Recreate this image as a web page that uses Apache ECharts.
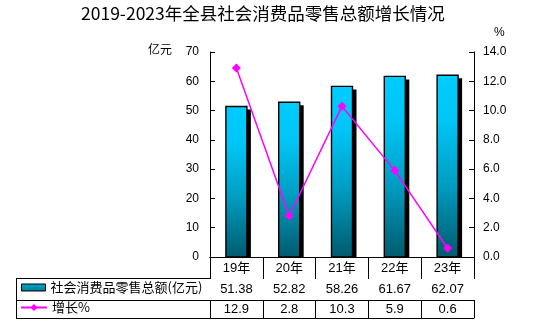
<!DOCTYPE html>
<html>
<head>
<meta charset="utf-8">
<script src="https://cdn.jsdelivr.net/npm/echarts@6/dist/echarts.min.js"></script>
<style>
  html, body { margin: 0; padding: 0; background: #fff; }
  #chart { width: 550px; height: 324px; }
</style>
</head>
<body>
<div id="chart"></div>
<script>
// Retail sales of consumer goods, 2019-2023
const titleText = '2019-2023年全县社会消费品零售总额增长情况';
const categories = ['19年', '20年', '21年', '22年', '23年'];
const salesName = '社会消费品零售总额(亿元)';
const salesValues = [51.38, 52.82, 58.26, 61.67, 62.07];
const growthName = '增长%';
const growthValues = [12.9, 2.8, 10.3, 5.9, 0.6];
const leftAxis = { name: '亿元', min: 0, max: 70, interval: 10 };
const rightAxis = { name: '%', min: 0, max: 14, interval: 2 };

const NUM_FONT = '"Liberation Sans", Arial, "Noto Sans CJK SC", sans-serif';
const CJK_FONT = '"Noto Sans CJK SC", "Liberation Sans", sans-serif';

// layout of the plot and of the data table underneath
const G = { left: 210, right: 76, top: 52, bottom: 67 };
const W = 550, H = 324;
const axisY = H - G.bottom;          // 257
const rowOffsets = [0, 21, 43, 61];  // table row borders below the axis
const tableLeft = 16;
const plotLeft = G.left;

const BAR_W = 21;
const SHADOW_DX = 4, SHADOW_DY = 3;

const chart = echarts.init(document.getElementById('chart'), null, { renderer: 'canvas' });

function barFill() {
  return new echarts.graphic.LinearGradient(0, 0, 0, 1, [
    { offset: 0, color: '#00ccff' },
    { offset: 0.25, color: '#00c6f6' },
    { offset: 0.6, color: '#009dc2' },
    { offset: 1, color: '#005a6c' }
  ]);
}

// bar with a hard black drop shadow, placed through the axes
function renderBar(params, api) {
  const top = api.coord([api.value(0), api.value(1)]);
  const base = api.coord([api.value(0), 0]);
  const x = top[0] - BAR_W / 2;
  const h = base[1] - top[1];
  return {
    type: 'group',
    children: [
      {
        type: 'rect',
        shape: { x: x + SHADOW_DX, y: top[1] + SHADOW_DY, width: BAR_W, height: Math.max(0, h - SHADOW_DY) },
        style: { fill: '#000' }
      },
      {
        type: 'rect',
        shape: { x: x, y: top[1], width: BAR_W, height: h },
        style: { fill: barFill(), stroke: '#000', lineWidth: 1.4 }
      }
    ]
  };
}

function tableAxis(offset, tickLen, margin, fmt) {
  return {
    type: 'category',
    data: categories,
    position: 'bottom',
    offset: offset,
    axisLine: { show: true, lineStyle: { color: '#000', width: 1 } },
    axisTick: { show: tickLen > 0, length: tickLen, lineStyle: { color: '#000', width: 1 } },
    axisLabel: {
      show: !!fmt,
      margin: margin,
      verticalAlign: 'middle',
      color: '#000',
      fontSize: 13,
      fontFamily: NUM_FONT,
      formatter: fmt || undefined
    },
    splitLine: { show: false }
  };
}

const option = {
  backgroundColor: '#fff',
  animation: false,
  title: {
    text: titleText,
    left: 81,
    top: 5,
    padding: 0,
    textStyle: { fontSize: 17.5, fontWeight: 'normal', color: '#000', fontFamily: CJK_FONT }
  },
  legend: [
    {
      data: [{ name: salesName, icon: 'rect' }],
      left: 21, top: 281, padding: 0,
      itemWidth: 24, itemHeight: 7, itemTextGap: 7,
      selectedMode: false,
      itemStyle: {
        color: new echarts.graphic.LinearGradient(0, 0, 0, 1, [
          { offset: 0, color: '#00a8cc' }, { offset: 1, color: '#007a95' }
        ]),
        borderColor: '#000', borderWidth: 1
      },
      textStyle: { fontSize: 13, color: '#000', fontFamily: CJK_FONT }
    },
    {
      data: [growthName],
      left: 20, top: 301, padding: 0,
      itemWidth: 26, itemHeight: 9, itemTextGap: 7,
      selectedMode: false,
      textStyle: { fontSize: 13, color: '#000', fontFamily: CJK_FONT }
    }
  ],
  grid: { left: G.left, right: G.right, top: G.top, bottom: G.bottom, containLabel: false },
  xAxis: [
    tableAxis(rowOffsets[0], rowOffsets[1] - rowOffsets[0], 11, (v) => v),
    tableAxis(rowOffsets[1], rowOffsets[2] - rowOffsets[1], 11, (v, i) => salesValues[i].toFixed(2)),
    tableAxis(rowOffsets[2], rowOffsets[3] - rowOffsets[2], 9, (v, i) => growthValues[i].toFixed(1)),
    tableAxis(rowOffsets[3], 0, 0, null)
  ],
  yAxis: [
    {
      type: 'value',
      name: leftAxis.name,
      nameLocation: 'end',
      nameGap: -3,
      nameTextStyle: { color: '#000', fontSize: 12, fontFamily: CJK_FONT, align: 'right', padding: [0, 38, 0, 0] },
      min: leftAxis.min, max: leftAxis.max, interval: leftAxis.interval,
      axisLine: { show: true, lineStyle: { color: '#000', width: 1 } },
      axisTick: { show: true, inside: true, length: 5, lineStyle: { color: '#000' } },
      axisLabel: { color: '#000', fontSize: 12, fontFamily: NUM_FONT, margin: 11 },
      splitLine: { show: false }
    },
    {
      type: 'value',
      name: rightAxis.name,
      nameLocation: 'end',
      nameGap: 13,
      nameTextStyle: { color: '#000', fontSize: 12, fontFamily: NUM_FONT, align: 'left', padding: [0, 0, 0, 20] },
      min: rightAxis.min, max: rightAxis.max, interval: rightAxis.interval,
      position: 'right',
      axisLine: { show: true, lineStyle: { color: '#000', width: 1 } },
      axisTick: { show: true, inside: true, length: 5, lineStyle: { color: '#000' } },
      axisLabel: { color: '#000', fontSize: 12, fontFamily: NUM_FONT, margin: 9, formatter: (v) => v.toFixed(1) },
      splitLine: { show: false }
    }
  ],
  series: [
    {
      name: salesName,
      type: 'custom',
      renderItem: renderBar,
      data: salesValues.map((v, i) => [i, v]),
      encode: { x: 0, y: 1 },
      xAxisIndex: 0,
      yAxisIndex: 0,
      z: 2,
      itemStyle: { color: '#0090b0' }
    },
    {
      name: growthName,
      type: 'line',
      data: growthValues,
      xAxisIndex: 0,
      yAxisIndex: 1,
      z: 5,
      symbol: 'diamond',
      symbolSize: 9,
      lineStyle: { color: '#ff00ff', width: 1.5 },
      itemStyle: { color: '#ff00ff' }
    }
  ],
  graphic: [
    // left part of the data table that holds the legend entries
    {
      type: 'group',
      silent: true,
      children: [
        { type: 'line', shape: { x1: tableLeft, y1: axisY + rowOffsets[1] + 0.5, x2: plotLeft, y2: axisY + rowOffsets[1] + 0.5 }, style: { stroke: '#000', lineWidth: 1 } },
        { type: 'line', shape: { x1: tableLeft, y1: axisY + rowOffsets[2] + 0.5, x2: plotLeft, y2: axisY + rowOffsets[2] + 0.5 }, style: { stroke: '#000', lineWidth: 1 } },
        { type: 'line', shape: { x1: tableLeft, y1: axisY + rowOffsets[3] + 0.5, x2: plotLeft, y2: axisY + rowOffsets[3] + 0.5 }, style: { stroke: '#000', lineWidth: 1 } },
        { type: 'line', shape: { x1: tableLeft + 0.5, y1: axisY + rowOffsets[1], x2: tableLeft + 0.5, y2: axisY + rowOffsets[3] + 1 }, style: { stroke: '#000', lineWidth: 1 } }
      ]
    }
  ]
};

chart.setOption(option);
</script>
</body>
</html>
